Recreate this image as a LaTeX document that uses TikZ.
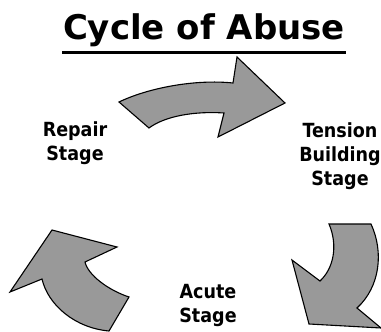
\documentclass[tikz,border=0pt]{standalone}
\usepackage{fontspec}
\setmainfont{DejaVu Sans}
\newfontfamily\labelfont{DejaVu Sans Condensed}
\definecolor{arrowgray}{RGB}{153,153,153}
\tikzset{
  cyclearrow/.style={fill=arrowgray, draw=black, line width=1.1pt, line join=miter},
  stagelabel/.style={font=\labelfont\bfseries\fontsize{19.5}{24}\selectfont, align=center, anchor=base, inner sep=0pt},
  titlelabel/.style={font=\bfseries\fontsize{34}{40}\selectfont, anchor=base, inner sep=0pt}
}
\begin{document}
\begin{tikzpicture}[x=1pt,y=-1pt]
\useasboundingbox (0,0) rectangle (381,332);
% title
\node[titlelabel] (title) at (204,39) {Cycle of Abuse};
\coordinate (ulL) at (62,52);
\coordinate (ulR) at (346,52);
\draw[line width=3pt] (ulL) -- (ulR);
% top arrow
\draw[cyclearrow] (119,102) .. controls (148,88) and (195,79) .. (233,83)
  -- (237,57) -- (285,103) -- (218,137) -- (224,113)
  .. controls (195,111) and (165,116) .. (149,128) -- cycle;
% bottom-right arrow
\draw[cyclearrow] (329,224) -- (371,224)
  .. controls (384,252) and (380,287) .. (357,308)
  -- (381,328) -- (309,324) -- (292,260) -- (320,281)
  .. controls (334,268) and (338,245) .. (329,224) -- cycle;
% bottom-left arrow
\draw[cyclearrow] (109,331) -- (129,297)
  .. controls (108,290) and (88,275) .. (85,262)
  -- (117,247) -- (52,230) -- (10,292) -- (42,279)
  .. controls (48,305) and (75,328) .. (109,331) -- cycle;
% labels (anchor base = baseline of last line)
\node[stagelabel] (repair) at (75,160) {Repair\\Stage};
\node[stagelabel] (tension) at (340,185) {Tension\\Building\\Stage};
\node[stagelabel] (acute) at (208,322) {Acute\\Stage};
\end{tikzpicture}
\end{document}
